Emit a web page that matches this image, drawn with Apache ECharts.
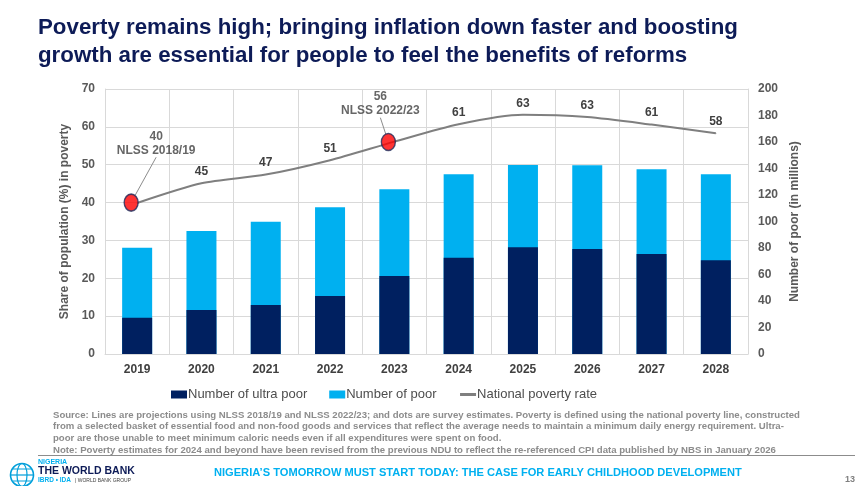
<!DOCTYPE html>
<html>
<head>
<meta charset="utf-8">
<script src="https://cdn.jsdelivr.net/npm/echarts@6/dist/echarts.min.js"></script>
<style>
  html, body { margin: 0; padding: 0; background: #ffffff; }
  #chart { width: 865px; height: 486px; }
</style>
</head>
<body>
<div id="chart"></div>
<script>
// data
const years = ["2019", "2020", "2021", "2022", "2023", "2024", "2025", "2026", "2027", "2028"];
const poorMillions = [80.2, 92.8, 99.8, 110.7, 124.3, 135.6, 142.6, 142.4, 139.4, 135.6];
const ultraPoorMillions = [27.4, 33.2, 37.0, 43.8, 58.9, 72.7, 80.5, 79.2, 75.5, 70.7];
const povertyRate = [39.9, 45.1, 47.4, 51.2, 56.1, 60.7, 63.2, 62.6, 60.6, 58.3];
const surveyYears = ["2019", "2023"];
const surveyRate = [40, 56];
const surveyNames = ["NLSS 2018/19", "NLSS 2022/23"];
const leftTicks = { min: 0, max: 70, step: 10 };
const rightTicks = { min: 0, max: 200, step: 20 };

const font = "'Liberation Sans', Arial, sans-serif";
const navy = "#002060";
const sky = "#00b0f0";
const gray = "#7f7f7f";

const footnote = [
  "Source: Lines are projections using NLSS 2018/19 and NLSS 2022/23; and dots are survey estimates. Poverty is defined using the national poverty line, constructed",
  "from a selected basket of essential food and non-food goods and services that reflect the average needs to maintain a minimum daily energy requirement. Ultra-",
  "poor are those unable to meet minimum caloric needs even if all expenditures were spent on food.",
  "Note: Poverty estimates for 2024 and beyond have been revised from the previous NDU to reflect the re-referenced CPI data published by NBS in January 2026"
];

// where the survey labels sit relative to the dot
const surveyShift = [{ dx: 25, dy: -31 }, { dx: -8, dy: -10 }];

const chart = echarts.init(document.getElementById("chart"), null, { renderer: "canvas" });

const option = {
  backgroundColor: "#ffffff",
  animation: false,
  textStyle: { fontFamily: font },
  title: {
    text: "Poverty remains high; bringing inflation down faster and boosting\ngrowth are essential for people to feel the benefits of reforms",
    left: 33,
    top: 9,
    textStyle: { fontFamily: font, fontSize: 22.3, fontWeight: "bold", color: "#0d1b57", lineHeight: 28 }
  },
  grid: { left: 105, right: 117, top: 89, bottom: 132 },
  legend: {
    top: 383,
    left: 166,
    itemGap: 22,
    itemWidth: 16,
    itemHeight: 8,
    data: [
      { name: "Number of ultra poor", icon: "rect" },
      { name: "Number of poor", icon: "rect" },
      { name: "National poverty rate", itemStyle: { opacity: 0 }, lineStyle: { width: 3 } }
    ],
    textStyle: { fontFamily: font, fontSize: 13, color: "#4d4d4d", padding: [0, 0, 0, -4] }
  },
  xAxis: {
    type: "category",
    data: years,
    boundaryGap: true,
    axisLine: { show: true, lineStyle: { color: "#d9d9d9" } },
    axisTick: { show: false },
    splitLine: { show: true, lineStyle: { color: "#d9d9d9", width: 1 } },
    axisLabel: { margin: 10, fontFamily: font, fontSize: 12, fontWeight: "bold", color: "#404040" }
  },
  yAxis: [
    {
      type: "value",
      min: leftTicks.min,
      max: leftTicks.max,
      interval: leftTicks.step,
      name: "Share of population (%) in poverty",
      nameLocation: "middle",
      nameRotate: 90,
      nameGap: 18,
      nameTextStyle: { fontFamily: font, fontSize: 12, fontWeight: "bold", color: "#595959" },
      axisLine: { show: true, lineStyle: { color: "#d9d9d9" } },
      axisTick: { show: false },
      splitLine: { show: true, lineStyle: { color: "#d9d9d9", width: 1 } },
      axisLabel: { margin: 10, fontFamily: font, fontSize: 12, fontWeight: "bold", color: "#595959" }
    },
    {
      type: "value",
      min: rightTicks.min,
      max: rightTicks.max,
      interval: rightTicks.step,
      name: "Number of poor (in millions)",
      nameLocation: "middle",
      nameRotate: 90,
      nameGap: 31,
      nameTextStyle: { fontFamily: font, fontSize: 12, fontWeight: "bold", color: "#595959" },
      axisLine: { show: true, lineStyle: { color: "#d9d9d9" } },
      axisTick: { show: false },
      splitLine: { show: false },
      axisLabel: { margin: 10, fontFamily: font, fontSize: 12, fontWeight: "bold", color: "#595959" }
    }
  ],
  series: [
    {
      name: "Number of poor",
      type: "bar",
      yAxisIndex: 1,
      data: poorMillions,
      barWidth: 30,
      itemStyle: { color: sky }
    },
    {
      name: "Number of ultra poor",
      type: "bar",
      yAxisIndex: 1,
      data: ultraPoorMillions,
      barWidth: 30,
      barGap: "-100%",
      itemStyle: { color: navy }
    },
    {
      name: "National poverty rate",
      type: "line",
      yAxisIndex: 0,
      data: povertyRate,
      smooth: 0.25,
      showSymbol: true,
      symbol: "circle",
      symbolSize: 1,
      lineStyle: { color: gray, width: 2 },
      itemStyle: { color: gray },
      z: 5,
      label: {
        show: true,
        position: "top",
        distance: 5,
        fontFamily: font,
        fontSize: 12,
        fontWeight: "bold",
        color: "#404040",
        formatter: (p) => (surveyYears.includes(p.name) ? "" : String(Math.round(p.value)))
      }
    },
    {
      name: "Survey estimate",
      type: "scatter",
      yAxisIndex: 0,
      data: surveyYears.map((y, i) => [y, surveyRate[i]]),
      symbol: "circle",
      symbolSize: [14, 17],
      symbolOffset: [-6, 0],
      itemStyle: { color: "#ff0000", borderColor: "#1f2a5a", borderWidth: 1.5 },
      z: 10,
      label: {
        show: true,
        position: "top",
        distance: 5,
        fontFamily: font,
        fontSize: 12,
        fontWeight: "bold",
        color: "#404040",
        lineHeight: 14,
        align: "center",
        formatter: (p) => surveyRate[p.dataIndex] + "\n" + surveyNames[p.dataIndex]
      },
      labelLayout: (params) => surveyShift[params.dataIndex],
      labelLine: { show: true, lineStyle: { color: "#8c8c8c", width: 1 } }
    }
  ],
  graphic: [
    ...footnote.map((line, i) => ({
      type: "text",
      left: 53,
      top: 410 + i * 11.7,
      style: { text: line, fontFamily: font, fontSize: 9.6, fontWeight: "bold", fill: "#8c8c8c" }
    })),
    {
      type: "line",
      shape: { x1: 38, y1: 455.5, x2: 855, y2: 455.5 },
      style: { stroke: "#8c8c8c", lineWidth: 1 }
    },
    {
      type: "text",
      left: 214,
      top: 467,
      style: {
        text: "NIGERIA\u2019S TOMORROW MUST START TODAY: THE CASE FOR EARLY CHILDHOOD DEVELOPMENT",
        fontFamily: font, fontSize: 11.1, fontWeight: "bold", fill: "#00b0f0"
      }
    },
    {
      type: "text",
      left: 845,
      top: 475,
      style: { text: "13", fontFamily: font, fontSize: 9, fontWeight: "bold", fill: "#7f7f7f" }
    },
    // World Bank logo
    {
      type: "group",
      left: 8,
      top: 461,
      children: [
        { type: "circle", shape: { cx: 12, cy: 12, r: 11.5 }, style: { fill: "none", stroke: "#009fda", lineWidth: 1.6 } },
        { type: "ellipse", shape: { cx: 12, cy: 12, rx: 5, ry: 11.5 }, style: { fill: "none", stroke: "#009fda", lineWidth: 1.2 } },
        { type: "line", shape: { x1: 0.5, y1: 12, x2: 23.5, y2: 12 }, style: { stroke: "#009fda", lineWidth: 1.2 } },
        { type: "line", shape: { x1: 3, y1: 6, x2: 21, y2: 6 }, style: { stroke: "#009fda", lineWidth: 1 } },
        { type: "line", shape: { x1: 3, y1: 18, x2: 21, y2: 18 }, style: { stroke: "#009fda", lineWidth: 1 } }
      ]
    },
    {
      type: "text", left: 38, top: 459,
      style: { text: "NIGERIA", fontFamily: font, fontSize: 7, fontWeight: "bold", fill: "#00b0f0" }
    },
    {
      type: "text", left: 38, top: 466,
      style: { text: "THE WORLD BANK", fontFamily: font, fontSize: 10.5, fontWeight: "bold", fill: "#0d1b57" }
    },
    {
      type: "text", left: 38, top: 477,
      style: { text: "IBRD \u2022 IDA", fontFamily: font, fontSize: 6.5, fontWeight: "bold", fill: "#00b0f0" }
    },
    {
      type: "text", left: 75, top: 478,
      style: { text: "| WORLD BANK GROUP", fontFamily: font, fontSize: 5, fill: "#404040" }
    }
  ]
};

chart.setOption(option);
window.addEventListener("resize", () => chart.resize());
</script>
</body>
</html>
